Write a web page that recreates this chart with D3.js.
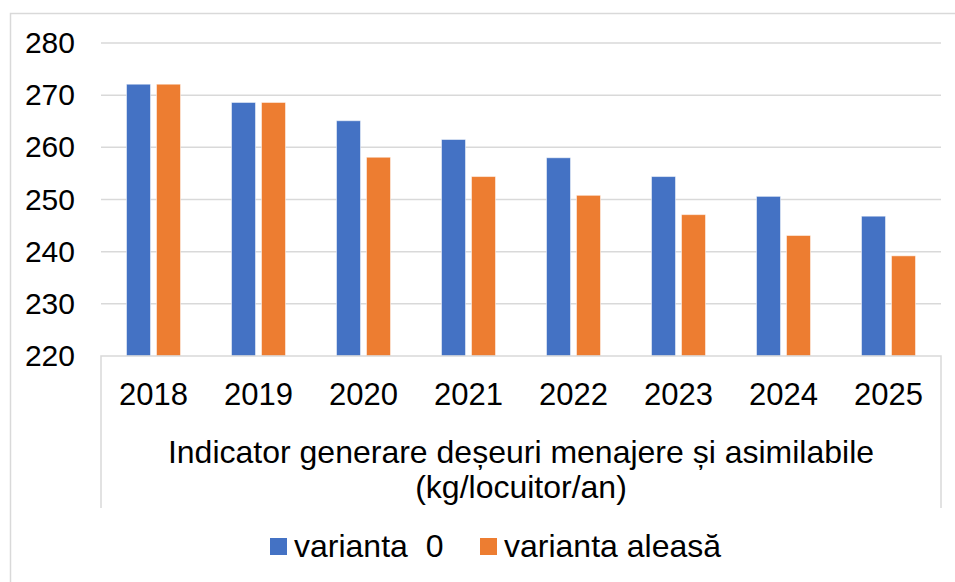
<!DOCTYPE html>
<html>
<head>
<meta charset="utf-8">
<script src="https://cdn.jsdelivr.net/npm/d3@7"></script>
<style>
  body { margin: 0; background: #fff; }
  svg { font-family: Arial, "Liberation Sans", sans-serif; }
</style>
</head>
<body>
<div id="chart"></div>
<script>
// chart data
const years = ["2018", "2019", "2020", "2021", "2022", "2023", "2024", "2025"];
const seriesNames = ["varianta  0", "varianta aleasă"];
const variant0 = [272.1, 268.6, 265.1, 261.5, 258.0, 254.4, 250.6, 246.8];
const variantChosen = [272.1, 268.6, 258.1, 254.4, 250.8, 247.1, 243.1, 239.2];
const yTicks = [220, 230, 240, 250, 260, 270, 280];
const categoryTitle = ["Indicator generare deșeuri menajere și asimilabile", "(kg/locuitor/an)"];

const colors = ["#4472C4", "#ED7D31"];
const W = 955, H = 582;
const plot = { left: 101, right: 941, top: 43, bottom: 356 };

const svg = d3.select("#chart").append("svg")
  .attr("width", W)
  .attr("height", H);

// outer chart border
svg.append("rect")
  .attr("x", 10.5).attr("y", 13.5)
  .attr("width", W + 20).attr("height", H + 20)
  .attr("fill", "none")
  .attr("stroke", "#D9D9D9")
  .attr("stroke-width", 1.5);

const x0 = d3.scaleBand()
  .domain(years)
  .range([plot.left, plot.right])
  .paddingInner(0.4857)
  .paddingOuter(0.24285);

const x1 = d3.scaleBand()
  .domain(seriesNames)
  .range([0, x0.bandwidth()])
  .paddingInner(0.2);

const y = d3.scaleLinear()
  .domain([220, 280])
  .range([plot.bottom, plot.top]);

// gridlines
svg.append("g")
  .selectAll("line")
  .data(yTicks.filter(t => t > 220))
  .join("line")
  .attr("x1", plot.left).attr("x2", plot.right)
  .attr("y1", d => y(d)).attr("y2", d => y(d))
  .attr("stroke", "#D9D9D9")
  .attr("stroke-width", 1.5);

// y tick labels
const yAxis = svg.append("g")
  .attr("transform", `translate(${plot.left},0)`)
  .call(d3.axisLeft(y).tickValues(yTicks).tickSize(0).tickPadding(26));
yAxis.select(".domain").remove();
yAxis.selectAll("text")
  .attr("fill", "#000")
  .style("font-size", "30px")
  .style("font-family", "Arial, 'Liberation Sans', sans-serif");

// bars
const rows = years.map((yr, i) => ({ year: yr, values: [variant0[i], variantChosen[i]] }));
svg.append("g")
  .selectAll("g")
  .data(rows)
  .join("g")
  .attr("transform", d => `translate(${x0(d.year)},0)`)
  .selectAll("rect")
  .data(d => d.values.map((v, j) => ({ name: seriesNames[j], value: v, j })))
  .join("rect")
  .attr("x", d => x1(d.name))
  .attr("width", x1.bandwidth())
  .attr("y", d => y(d.value))
  .attr("height", d => y(220) - y(d.value))
  .attr("fill", d => colors[d.j])
  .attr("stroke", "#fff")
  .attr("stroke-opacity", 0.5)
  .attr("stroke-width", 1);

// category axis box (multi-level)
const axisBottom = 508;
svg.append("path")
  .attr("d", `M${plot.left},${axisBottom}V${plot.bottom}H${plot.right}V${axisBottom}`)
  .attr("fill", "none")
  .attr("stroke", "#D9D9D9")
  .attr("stroke-width", 1.5);

svg.append("g")
  .selectAll("text")
  .data(years)
  .join("text")
  .attr("x", d => x0(d) + x0.bandwidth() / 2)
  .attr("y", 405)
  .attr("text-anchor", "middle")
  .style("font-size", "31px")
  .text(d => d);

svg.append("g")
  .selectAll("text")
  .data(categoryTitle)
  .join("text")
  .attr("x", (plot.left + plot.right) / 2)
  .attr("y", (d, i) => 463 + i * 35)
  .attr("text-anchor", "middle")
  .style("font-size", "32px")
  .text(d => d);

// legend
const legendItems = [
  { name: seriesNames[0], color: colors[0], x: 270 },
  { name: seriesNames[1], color: colors[1], x: 480 }
];
const legend = svg.append("g")
  .selectAll("g")
  .data(legendItems)
  .join("g")
  .attr("transform", d => `translate(${d.x},538)`);
legend.append("rect")
  .attr("width", 17).attr("height", 17)
  .attr("fill", d => d.color);
legend.append("text")
  .attr("x", 24)
  .attr("y", 19)
  .style("font-size", "32px")
  .style("white-space", "pre")
  .attr("xml:space", "preserve")
  .text(d => d.name);
</script>
</body>
</html>
